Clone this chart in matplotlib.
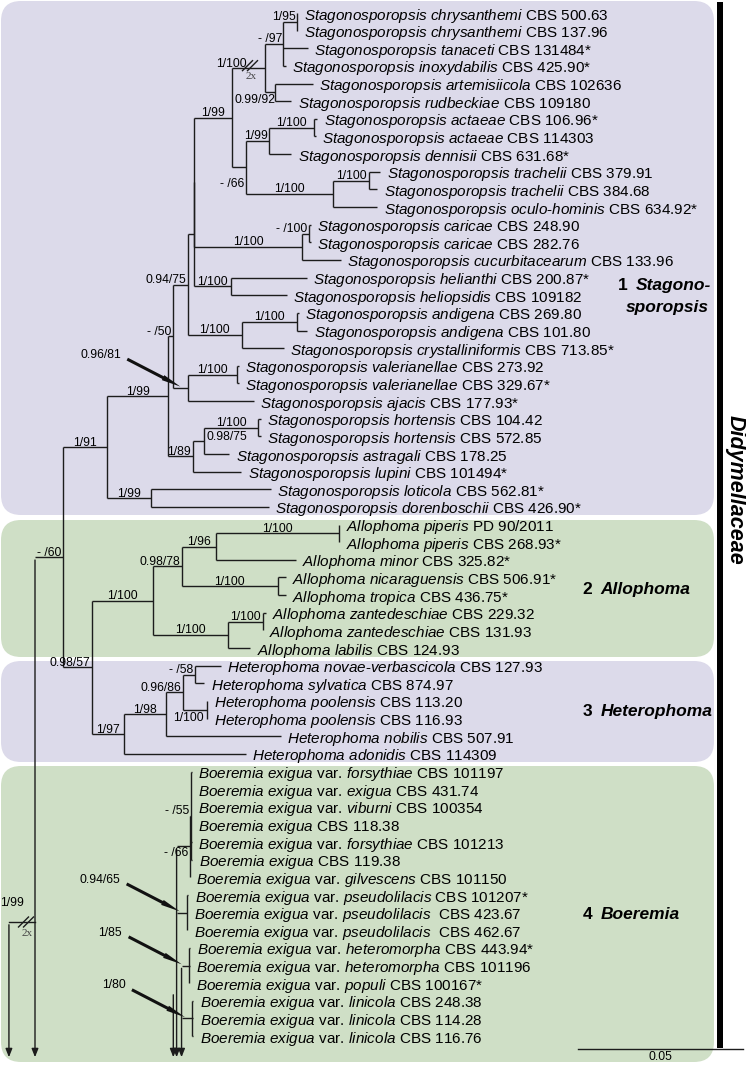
import matplotlib
matplotlib.use("Agg")
import matplotlib.pyplot as plt
from matplotlib.collections import LineCollection
from matplotlib.patches import FancyBboxPatch, FancyArrowPatch, Rectangle
from matplotlib.transforms import IdentityTransform

plt.rcParams.update({
    "font.family": ["Liberation Sans", "DejaVu Sans"],
    "mathtext.fontset": "custom",
    "mathtext.rm": "Liberation Sans",
    "mathtext.it": "Liberation Sans:italic",
    "mathtext.bf": "Liberation Sans:bold",
})

# ---------------- data ----------------
stag_species = ["chrysanthemi", "chrysanthemi", "tanaceti", "inoxydabilis", "artemisiicola",
                "rudbeckiae", "actaeae", "actaeae", "dennisii", "trachelii", "trachelii",
                "oculo-hominis", "caricae", "caricae", "cucurbitacearum", "helianthi",
                "heliopsidis", "andigena", "andigena", "crystalliniformis", "valerianellae",
                "valerianellae", "ajacis", "hortensis", "hortensis", "astragali", "lupini",
                "loticola", "dorenboschii"]
stag_strains = ["CBS 500.63", "CBS 137.96", "CBS 131484*", "CBS 425.90*", "CBS 102636",
                "CBS 109180", "CBS 106.96*", "CBS 114303", "CBS 631.68*", "CBS 379.91",
                "CBS 384.68", "CBS 634.92*", "CBS 248.90", "CBS 282.76", "CBS 133.96",
                "CBS 200.87*", "CBS 109182", "CBS 269.80", "CBS 101.80", "CBS 713.85*",
                "CBS 273.92", "CBS 329.67*", "CBS 177.93*", "CBS 104.42", "CBS 572.85",
                "CBS 178.25", "CBS 101494*", "CBS 562.81*", "CBS 426.90*"]
allo_species = ["piperis", "piperis", "minor", "nicaraguensis", "tropica",
                "zantedeschiae", "zantedeschiae", "labilis"]
allo_strains = ["PD 90/2011", "CBS 268.93*", "CBS 325.82*", "CBS 506.91*", "CBS 436.75*",
                "CBS 229.32", "CBS 131.93", "CBS 124.93"]
hetero_species = ["novae-verbascicola", "sylvatica", "poolensis", "poolensis", "nobilis", "adonidis"]
hetero_strains = ["CBS 127.93", "CBS 874.97", "CBS 113.20", "CBS 116.93", "CBS 507.91", "CBS 114309"]
boer_variety = ["forsythiae", "exigua", "viburni", None, "forsythiae", None, "gilvescens",
                "pseudolilacis", "pseudolilacis", "pseudolilacis", "heteromorpha",
                "heteromorpha", "populi", "linicola", "linicola", "linicola"]
boer_strains = ["CBS 101197", "CBS 431.74", "CBS 100354", "CBS 118.38", "CBS 101213",
                "CBS 119.38", "CBS 101150", "CBS 101207*", " CBS 423.67", " CBS 462.67",
                "CBS 443.94*", "CBS 101196", "CBS 100167*", "CBS 248.38", "CBS 114.28",
                "CBS 116.76"]

# topology, supports (BI/ML) and branch lengths (substitutions/site), tips = row numbers
stag_newick = ("((((((((((t0:0,t1:0)1/95:0.0041,t2:0.0073,t3:0.0007)-/97:0.0055,"
               "(t4:0.0113,t5:0.0048)0.99/92:0.0030)1/100:0.0101,"
               "(((t6:0.0010,t7:0.0005)1/100:0.0136,t8:0.0066)1/99:0.0071,"
               "((t9:0.0033,t10:0.0024)1/100:0.0110,t11:0.0134)1/100:0.0264)-/66:0.0042)1/99:0.0114,"
               "((t12:0.0007,t13:0.0007)-/100:0.0020,t14:0.0117)1/100:0.0326):0.0002,"
               "(t15:0.0229,t16:0.0168)1/100:0.0114):0.0018,"
               "((t17:0.0007,t18:0.0032)1/100:0.0167,t19:0.0128)1/100:0.0163)0.94/75:0.0045,"
               "((t20:0.0007,t21:0.0007)1/100:0.0148,t22:0.0200)0.96/81:0.0045)-/50:0.0014,"
               "(((t23:0.0007,t24:0.0007)1/100:0.0165,t25:0.0076)0.98/75:0.0034,t26:0.0147)1/89:0.0074)1/99:0.0186,"
               "(t27:0.0361,t28:0.0355)1/99:0.0135)1/91:0.0133")
allo_newick = ("((((t29:0.0002,t30:0.0002)1/100:0.0372,t31:0.0242)1/96:0.0103,"
               "(t32:0.0024,t33:0.0024)1/100:0.0291)0.98/78:0.0088,"
               "((t34:0.0010,t35:0)1/100:0.0104,t36:0.0067)1/100:0.0229)1/100:0.0185")
hetero_newick = ("((((t37:0.0079,t38:0.0029)-/58:0.0035,(t39:0,t40:0)1/100:0.0073)0.96/86:0.0052,"
                 "t41:0.0348)1/98:0.0126,t42:0.0368)1/97:0.0099")
top_newick = "((%s,(%s,%s)0.98/57:0.0087)-/60:0.0085)" % (stag_newick, allo_newick, hetero_newick)
# Boeremia: two groups hanging from lines that continue off the page
boer_newick = ("((((t43:0.0002,t44:0.0001,t45:0.0001,t46:0.0001,t47:0.0002,t48:0.0004)-/55:0.0004,"
               "t49:0)-/66:0.0040,"
               "(t50:0.0003,t51:0.0001,t52:0.0001)0.94/65:0.0032):0.0010,"
               "((t53:0.0004,t54:0.0002,t55:0.0001)1/85:0.0023,"
               "(t56:0.0003,t57:0.0002,t58:0.0003)1/80:0.0033):0.0025)")
root_stem = 0.0079          # drawn at half length ("2x")
scale_len = 0.05

# ---------------- layout ----------------
W, H = 746, 1066
PXU = 3300.0          # px per substitution unit
ROW0, ROWH = 13.0, 17.64
XROOT = 35.0
BOER_X = 173.3
LAV, GRN = "#dcdaea", "#cfdfc6"
LINE = "#1c1c1c"


def to_data(xp, yp):
    return ((xp - XROOT) / PXU, (yp - ROW0) / ROWH)


def to_px(xd, yd):
    return (XROOT + xd * PXU, ROW0 + yd * ROWH)


fig = plt.figure(figsize=(W / 100, H / 100), dpi=100)
ax = fig.add_axes([0, 0, 1, 1])
ax.set_xlim(to_data(0, 0)[0], to_data(W, 0)[0])
ax.set_ylim(to_data(0, H)[1], to_data(0, 0)[1])
ax.axis("off")
PX = IdentityTransform()

# background panels
for (x0, y0, x1, y1, c) in [(1, 1, 714, 515, LAV), (1, 520, 714, 657, GRN),
                            (1, 661, 714, 762, LAV), (1, 766, 714, 1062, GRN)]:
    ax.add_patch(FancyBboxPatch((x0, H - y1), x1 - x0, y1 - y0,
                                boxstyle="round,pad=0,rounding_size=20",
                                transform=PX, fc=c, ec="none", zorder=0))
ax.add_patch(Rectangle((717, H - 1048), 6, 1046, transform=PX, fc="black", ec="none"))


# ---------------- newick parser ----------------
def parse(s):
    pos = [0]

    def node():
        n = {"children": [], "label": "", "bl": 0.0}
        if s[pos[0]] == "(":
            pos[0] += 1
            while True:
                n["children"].append(node())
                if s[pos[0]] == ",":
                    pos[0] += 1
                    continue
                pos[0] += 1  # ')'
                break
        start = pos[0]
        while pos[0] < len(s) and s[pos[0]] not in ",():":
            pos[0] += 1
        n["label"] = s[start:pos[0]]
        if pos[0] < len(s) and s[pos[0]] == ":":
            pos[0] += 1
            start = pos[0]
            while pos[0] < len(s) and s[pos[0]] not in ",()":
                pos[0] += 1
            n["bl"] = float(s[start:pos[0]])
        return n
    return node()


def layout(n, x):
    n["x"] = x + n["bl"]
    if n["children"]:
        for c in n["children"]:
            layout(c, n["x"])
        n["y"] = (n["children"][0]["y"] + n["children"][-1]["y"]) / 2
        n["first"] = n["children"][0]["first"]
        n["last"] = n["children"][-1]["last"]
    else:
        n["tip"] = int(n["label"][1:])
        n["y"] = n["tip"]
        n["first"] = n["last"] = n["tip"]


segs = []
internal = []


def collect(n, px):
    if n["x"] > px:
        segs.append([(px, n["y"]), (n["x"], n["y"])])
    if n["children"]:
        segs.append([(n["x"], n["children"][0]["y"]), (n["x"], n["children"][-1]["y"])])
        internal.append((n, px))
        for c in n["children"]:
            collect(c, n["x"])


top = parse(top_newick)
layout(top, 0.0)
collect(top, 0.0)

boer = parse(boer_newick)
bx0 = to_data(BOER_X, 0)[0]
layout(boer, bx0)
conts = []                       # lines continuing to the next page
for piece in boer["children"]:
    for c in piece["children"]:
        collect(c, piece["x"])
    conts.append((piece["x"], piece["children"][0]["y"]))
conts.append((boer["x"], boer["children"][-1]["y"]))

ax.add_collection(LineCollection(segs, colors=LINE, linewidths=1.0, zorder=3))

# continuation arrows to the bottom
y_bot = to_data(0, 1060)[1]
root_x = -root_stem
clade = top["children"][0]
root_y = to_data(0, 922)[1]
ax.plot([root_x, 0.0], [root_y] * 2, color=LINE, lw=1.0, zorder=3)
conts = [(0.0, clade["y"]), (root_x, root_y)] + conts
for (xx, yy) in conts:
    ax.add_patch(FancyArrowPatch((xx, yy), (xx, y_bot), arrowstyle="-|>,head_length=5,head_width=2",
                                 color=LINE, lw=1.0, mutation_scale=1, zorder=3))


# break marks "//" + "2x"
def brk(xp, yp):
    for off in (-2.5, 2.5):
        ax.plot([xp + off - 5, xp + off + 5], [H - (yp + 5), H - (yp - 5)],
                transform=PX, color=LINE, lw=1.0, zorder=4)
    ax.text(xp + 1, H - (yp + 11), "2x", transform=PX, ha="center", va="center",
            fontsize=8, family="Liberation Serif", color="#444444", zorder=4)


brk(250, ROW0 + 2.985 * ROWH)
brk(26, 922)
ax.text(0, H - 906, "1/99", transform=PX, ha="left", va="baseline", fontsize=8.7, zorder=5)

# tip labels
fig.canvas.draw()
R = fig.canvas.get_renderer()


def tip_text(i):
    if i < 29:
        g, sp, st, var = "Stagonosporopsis", stag_species[i], stag_strains[i], None
    elif i < 37:
        g, sp, st, var = "Allophoma", allo_species[i - 29], allo_strains[i - 29], None
    elif i < 43:
        g, sp, st, var = "Heterophoma", hetero_species[i - 37], hetero_strains[i - 37], None
    else:
        g, sp, st, var = "Boeremia", "exigua", boer_strains[i - 43], boer_variety[i - 43]

    def it(w):
        return "-".join(r"$\mathit{%s}$" % p for p in w.split("-"))
    s = it(g) + " " + it(sp)
    if var:
        s += " var. " + it(var)
    return s + " " + st


def tips(n):
    if n["children"]:
        for c in n["children"]:
            tips(c)
    else:
        ax.text(n["x"] + 6.5 / PXU, n["y"], tip_text(n["tip"]), ha="left", va="center_baseline",
                fontsize=11, zorder=5)


tips(top)
tips(boer)

# support labels
below = {(4, 5): (0, 2), (6, 11): (2, 11), (39, 40): (4, 2)}
lower = {(43, 49): 11}
arrow_nodes = {(20, 22), (50, 52), (53, 55), (56, 58)}
for n, pxd in internal:
    lab = n["label"]
    if not lab:
        continue
    lab = lab.replace("-/", "- /")
    key = (n["first"], n["last"])
    nx, ny = to_px(n["x"], n["y"])
    ppx, _ = to_px(pxd, 0)
    fs = 8.7
    if key in arrow_nodes:
        tipx, tipy = nx - 5, ny
        ax.text(tipx - 62, H - (tipy - 30), lab, transform=PX, ha="right", va="baseline", fontsize=fs, zorder=5)
        ax.add_patch(FancyArrowPatch((tipx - 58, H - (tipy - 30)), (tipx, H - tipy), transform=PX,
                                     arrowstyle="simple,head_length=14,head_width=4,tail_width=2.2",
                                     mutation_scale=1, color="#111111", lw=0, zorder=6))
        continue
    if key in below:
        bxo, byo = below[key]
        ax.text(nx - bxo, H - (ny + byo), lab, transform=PX, ha="right", va="top", fontsize=fs, zorder=5)
        continue
    if key == (23, 25):
        ax.text(nx + 3, H - (ny - 4), lab, transform=PX, ha="left", va="center", fontsize=fs, zorder=5)
        continue
    base = ny - 1.5 + lower.get(key, 0)
    t = ax.text(0, 0, lab, transform=PX, fontsize=fs, ha="center", va="baseline", zorder=5)
    w = t.get_window_extent(R).width
    cx = (ppx + nx) / 2
    if key == (0, 5):
        t.set_ha("right")
        t.set_position((ppx + 15, H - base))
    elif cx + w / 2 > nx - 1.5:
        t.set_ha("right")
        t.set_position((nx - 1.5, H - base))
    else:
        t.set_position((cx, H - base))


# clade labels
def clade_label(num, name, xp, yp, second=None):
    t = ax.text(xp, H - yp, num + " ", transform=PX, fontsize=12.5, fontweight="bold",
                va="center_baseline", ha="left", zorder=5)
    w = t.get_window_extent(R).width
    ax.text(xp + w + 3, H - yp, name, transform=PX, fontsize=12.5, fontweight="bold",
            style="italic", va="center_baseline", ha="left", zorder=5)
    if second:
        ax.text(xp + 8, H - (yp + 22), second, transform=PX, fontsize=12.5, fontweight="bold",
                style="italic", va="center_baseline", ha="left", zorder=5)


clade_label("1", "Stagono-", 618, 284, "sporopsis")
clade_label("2", "Allophoma", 583, 588)
clade_label("3", "Heterophoma", 583, 710)
clade_label("4", "Boeremia", 583, 913)

ax.text(735, H - 490, "Didymellaceae", transform=PX, rotation=-90, fontsize=15.5,
        fontweight="bold", style="italic", ha="center", va="center", zorder=5)

# scale bar
sx0 = to_data(578, 0)[0]
sy = to_data(0, 1049)[1]
ax.plot([sx0, sx0 + scale_len], [sy, sy], color=LINE, lw=1.0, zorder=5)
ax.text(sx0 + scale_len / 2, to_data(0, 1051)[1], "0.05", ha="center", va="top", fontsize=8.7, zorder=5)

fig.savefig("out.png", dpi=100)
